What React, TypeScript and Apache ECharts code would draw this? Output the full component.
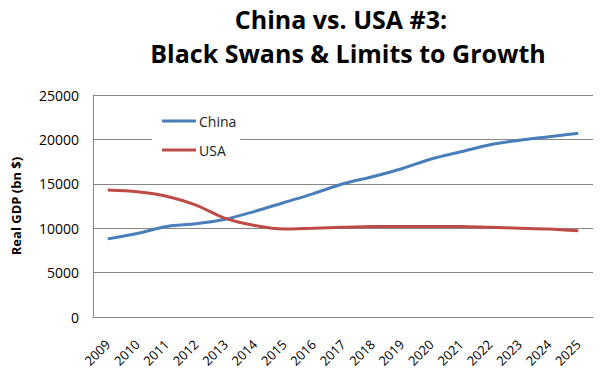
import React, { useEffect, useRef } from "react";
import * as echarts from "echarts";

const years = ["2009","2010","2011","2012","2013","2014","2015","2016","2017","2018","2019","2020","2021","2022","2023","2024","2025"];
const china = [8800, 9400, 10200, 10500, 11000, 11900, 12900, 13900, 15000, 15800, 16700, 17800, 18600, 19400, 19900, 20300, 20700];
const usa = [14300, 14100, 13600, 12600, 11100, 10300, 9900, 10000, 10100, 10200, 10200, 10200, 10200, 10100, 10000, 9900, 9700];
const titleLines = ["China vs. USA #3:", "Black Swans & Limits to Growth"];
const yAxisName = "Real GDP (bn $)";

export default function App() {
  const ref = useRef<HTMLDivElement>(null);
  useEffect(() => {
    if (!ref.current) return;
    const chart = echarts.init(ref.current, undefined, { renderer: "svg" });
    const font = "'Open Sans', 'Liberation Sans', sans-serif";
    chart.setOption({
      animation: false,
      backgroundColor: "#ffffff",
      graphic: [
        {
          type: "text",
          x: 341,
          y: 6,
          style: {
            text: titleLines[0],
            fill: "#000",
            font: `bold 25px ${font}`,
            textAlign: "center",
          },
        },
        {
          type: "text",
          x: 348,
          y: 40,
          style: {
            text: titleLines[1],
            fill: "#000",
            font: `bold 25px ${font}`,
            textAlign: "center",
          },
        },
      ],
      grid: { left: 93, right: 7, top: 95, bottom: 56, containLabel: false },
      legend: {
        orient: "vertical",
        left: 152,
        top: 108,
        itemWidth: 34,
        itemHeight: 3,
        itemGap: 15,
        padding: [6, 4, 8, 10],
        backgroundColor: "#ffffff",
        textStyle: { fontFamily: font, fontSize: 14, color: "#222", padding: [0, 0, 0, -2] },
        data: [
          { name: "China", icon: "rect" },
          { name: "USA", icon: "rect" },
        ],
      },
      xAxis: {
        type: "category",
        data: years,
        boundaryGap: true,
        axisLine: { lineStyle: { color: "#868686" } },
        axisTick: { show: false },
        axisLabel: { rotate: 45, fontFamily: font, fontSize: 13, color: "#000", margin: 25 },
      },
      yAxis: {
        type: "value",
        min: 0,
        max: 25000,
        interval: 5000,
        name: yAxisName,
        nameLocation: "middle",
        nameGap: 71,
        nameTextStyle: { fontFamily: font, fontSize: 13, fontWeight: "bold", color: "#000" },
        axisLine: { show: true, lineStyle: { color: "#868686" } },
        axisTick: { show: false },
        axisLabel: { fontFamily: font, fontSize: 14, color: "#000", margin: 14, formatter: (v: number) => String(v) },
        splitLine: { lineStyle: { color: "#868686" } },
      },
      series: [
        {
          name: "China",
          type: "line",
          data: china,
          smooth: 0.3,
          symbol: "none",
          lineStyle: { width: 3, color: "#4A7EBB" },
          itemStyle: { color: "#4A7EBB" },
        },
        {
          name: "USA",
          type: "line",
          data: usa,
          smooth: 0.3,
          symbol: "none",
          lineStyle: { width: 3, color: "#BE4B48" },
          itemStyle: { color: "#BE4B48" },
        },
      ],
    });
    return () => chart.dispose();
  }, []);
  return <div ref={ref} style={{ position: "fixed", left: 0, top: 0, width: 600, height: 373 }} />;
}
